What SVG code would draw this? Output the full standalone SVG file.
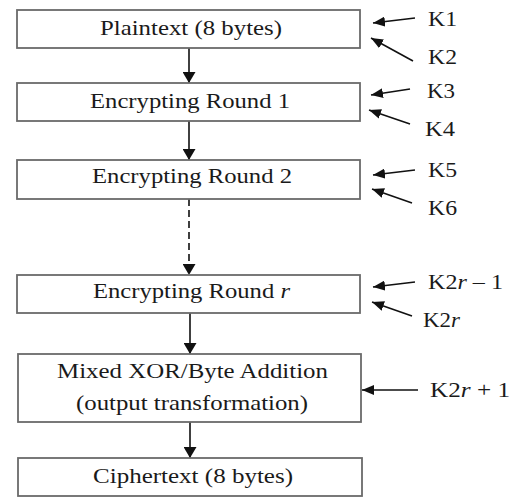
<svg xmlns="http://www.w3.org/2000/svg" width="517" height="497" viewBox="0 0 517 497">
<style>
.box{fill:#fff;stroke:#6a6a6a;stroke-width:1.8}
.t{font-family:'Liberation Serif',serif;font-size:21px;fill:#1a1a1a}
.ln{stroke:#111;stroke-width:1.6;fill:none}
.dash{stroke-dasharray:7 4}
</style>
<defs>
<marker id="ah" markerUnits="userSpaceOnUse" markerWidth="12" markerHeight="13" refX="11" refY="6.5" orient="auto" viewBox="0 0 12 13">
<path d="M0,0 L11,6.5 L0,13 z" fill="#111"/>
</marker>
<marker id="ak" markerUnits="userSpaceOnUse" markerWidth="13" markerHeight="10" refX="12" refY="5" orient="auto" viewBox="0 0 13 10">
<path d="M0,0 L12,5 L0,10 z" fill="#111"/>
</marker>
</defs>
<g id="connectors">
<line class="ln" x1="189" y1="48" x2="189" y2="83" marker-end="url(#ah)"/>
<line class="ln" x1="189" y1="121" x2="189" y2="160" marker-end="url(#ah)"/>
<line class="ln dash" x1="189" y1="199" x2="189" y2="275" marker-end="url(#ah)"/>
<line class="ln" x1="190" y1="313" x2="190" y2="354" marker-end="url(#ah)"/>
<line class="ln" x1="190" y1="422" x2="190" y2="458" marker-end="url(#ah)"/>
<line class="ln" x1="415" y1="18" x2="373" y2="23" marker-end="url(#ak)"/>
<line class="ln" x1="413" y1="61" x2="371" y2="38" marker-end="url(#ak)"/>
<line class="ln" x1="410" y1="89" x2="371" y2="95" marker-end="url(#ak)"/>
<line class="ln" x1="410" y1="124" x2="369" y2="110" marker-end="url(#ak)"/>
<line class="ln" x1="415" y1="170" x2="373" y2="175" marker-end="url(#ak)"/>
<line class="ln" x1="412" y1="203" x2="372" y2="189" marker-end="url(#ak)"/>
<line class="ln" x1="415" y1="282" x2="373" y2="287" marker-end="url(#ak)"/>
<line class="ln" x1="412" y1="316" x2="372" y2="302" marker-end="url(#ak)"/>
<line class="ln" x1="418" y1="390" x2="362" y2="390" marker-end="url(#ak)"/>
</g>
<g id="plaintext">
<rect class="box" x="17" y="10" width="343" height="38"/>
<text class="t" font-family="Liberation Serif" x="100" y="35" textLength="182" lengthAdjust="spacingAndGlyphs">Plaintext (8 bytes)</text>
</g>
<g id="round1">
<rect class="box" x="17" y="83" width="343" height="38"/>
<text class="t" font-family="Liberation Serif" x="90" y="108" textLength="200" lengthAdjust="spacingAndGlyphs">Encrypting Round 1</text>
</g>
<g id="round2">
<rect class="box" x="17" y="160" width="343" height="39"/>
<text class="t" font-family="Liberation Serif" x="92" y="183" textLength="200" lengthAdjust="spacingAndGlyphs">Encrypting Round 2</text>
</g>
<g id="roundr">
<rect class="box" x="17" y="275" width="343" height="38"/>
<text class="t" font-family="Liberation Serif" x="93" y="298" textLength="197" lengthAdjust="spacingAndGlyphs">Encrypting Round <tspan font-style="italic">r</tspan></text>
</g>
<g id="mixed">
<rect class="box" x="18" y="354" width="343" height="68"/>
<text class="t" font-family="Liberation Serif" x="57" y="378" textLength="271" lengthAdjust="spacingAndGlyphs">Mixed XOR/Byte Addition</text>
<text class="t" font-family="Liberation Serif" x="76" y="410" textLength="232" lengthAdjust="spacingAndGlyphs">(output transformation)</text>
</g>
<g id="ciphertext">
<rect class="box" x="18" y="458" width="344" height="38"/>
<text class="t" font-family="Liberation Serif" x="93" y="483" textLength="200" lengthAdjust="spacingAndGlyphs">Ciphertext (8 bytes)</text>
</g>
<g id="keys">
<text class="t" x="428" y="26" textLength="29" lengthAdjust="spacingAndGlyphs">K1</text>
<text class="t" x="428" y="64" textLength="29" lengthAdjust="spacingAndGlyphs">K2</text>
<text class="t" x="427" y="98" textLength="28" lengthAdjust="spacingAndGlyphs">K3</text>
<text class="t" x="425" y="136" textLength="30" lengthAdjust="spacingAndGlyphs">K4</text>
<text class="t" x="428" y="177" textLength="29" lengthAdjust="spacingAndGlyphs">K5</text>
<text class="t" x="428" y="215" textLength="29" lengthAdjust="spacingAndGlyphs">K6</text>
<text class="t" x="428" y="289" textLength="75" lengthAdjust="spacingAndGlyphs">K2<tspan font-style="italic">r</tspan> – 1</text>
<text class="t" x="423" y="327" textLength="37" lengthAdjust="spacingAndGlyphs">K2<tspan font-style="italic">r</tspan></text>
<text class="t" x="430" y="397" textLength="80" lengthAdjust="spacingAndGlyphs">K2<tspan font-style="italic">r</tspan> + 1</text>
</g>
</svg>
